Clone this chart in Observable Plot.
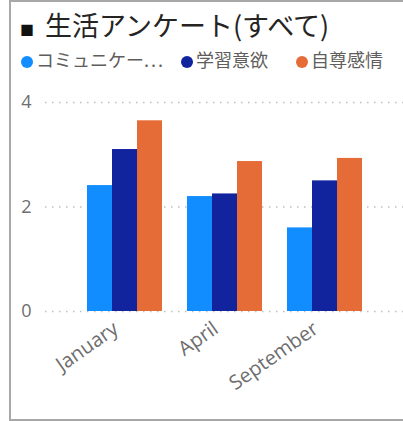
<!DOCTYPE html>
<html>
<head>
<meta charset="utf-8">
<script src="https://cdn.jsdelivr.net/npm/d3@7"></script>
<script src="https://cdn.jsdelivr.net/npm/@observablehq/plot@0.6"></script>
<style>
  html, body { margin: 0; padding: 0; background: #fff; }
  #wrap { position: relative; width: 403px; height: 421px; overflow: hidden; font-family: "Noto Sans CJK JP", "Noto Sans", sans-serif; }
  #frame { position: absolute; left: 9px; top: 0; width: 500px; height: 417px; border: 2px solid #a8a8a8; }
  #title { position: absolute; left: 20px; top: 7px; font-size: 27px; line-height: 36px; color: #252423; white-space: nowrap; }
  #title .sq { font-size: 14px; color: #111; margin-right: 11px; position: relative; top: -1px; }
  .leg { position: absolute; top: 47px; height: 24px; line-height: 24px; font-size: 18px; color: #605e5c; white-space: nowrap; }
  .leg .dot { display: inline-block; width: 12px; height: 12px; border-radius: 50%; margin-right: 3px; vertical-align: -1px; }
  .leg .ell { letter-spacing: 2px; }
  .layer { position: absolute; left: 0; top: 80px; }
  .layer svg { background: transparent !important; }
</style>
</head>
<body>
<div id="wrap">
  <div id="frame"></div>
  <div id="title"><span class="sq">■</span>生活アンケート(すべて)</div>
  <div id="legend"></div>
  <div id="gridLayer" class="layer"></div>
  <div id="barLayer" class="layer"></div>
</div>
<script>
const months = ["January", "April", "September"];
const series = ["コミュニケーション", "学習意欲", "自尊感情"];
const colors = ["#118DFF", "#12239E", "#E66C37"];
const commValues = [2.41, 2.20, 1.60];
const motivationValues = [3.10, 2.25, 2.50];
const esteemValues = [3.65, 2.87, 2.93];
const yTicks = [0, 2, 4];

const seriesValues = [commValues, motivationValues, esteemValues];
const data = months.flatMap((m, i) => series.map((s, j) => ({month: m, series: s, value: seriesValues[j][i]})));

// legend
const legLefts = [21, 181, 296];
const legend = document.getElementById("legend");
series.forEach((s, j) => {
  const d = document.createElement("div");
  d.className = "leg";
  d.style.left = legLefts[j] + "px";
  const label = s.length > 6 ? s.slice(0, 6) + '<span class="ell">...</span>' : s;
  d.innerHTML = `<span class="dot" style="background:${colors[j]}"></span>${label}`;
  legend.appendChild(d);
});

const W = 403, H = 339, MT = 22, MB = 108;
const fontStyle = {fontFamily: "'Open Sans', sans-serif", fontSize: "18px", color: "#6e6e6e", background: "transparent", overflow: "visible"};

const grid = Plot.plot({
  width: W, height: H, marginLeft: 45, marginRight: 0, marginTop: MT, marginBottom: MB,
  style: fontStyle,
  y: {domain: [0, 4], ticks: yTicks, tickFormat: d3.format("d"), tickSize: 0, tickPadding: 14, label: null},
  marks: [
    Plot.ruleY(yTicks, {stroke: "#c0c0c0", strokeWidth: 1.5, strokeDasharray: "1.5,5.5"})
  ]
});
document.getElementById("gridLayer").appendChild(grid);

const bars = Plot.plot({
  width: W, height: H, marginLeft: 87, marginRight: 41, marginTop: MT, marginBottom: MB,
  style: fontStyle,
  fx: {domain: months, padding: 0.25, label: null},
  x: {domain: series, axis: null, padding: 0},
  y: {domain: [0, 4], axis: null},
  color: {domain: series, range: colors},
  marks: [
    Plot.barY(data, {fx: "month", x: "series", y: "value", fill: "series"}),
    Plot.axisFx({anchor: "bottom", tickRotate: -35, tickSize: 0, tickPadding: 15, dx: -9, fontSize: 20, label: null})
  ]
});
document.getElementById("barLayer").appendChild(bars);
</script>
</body>
</html>
